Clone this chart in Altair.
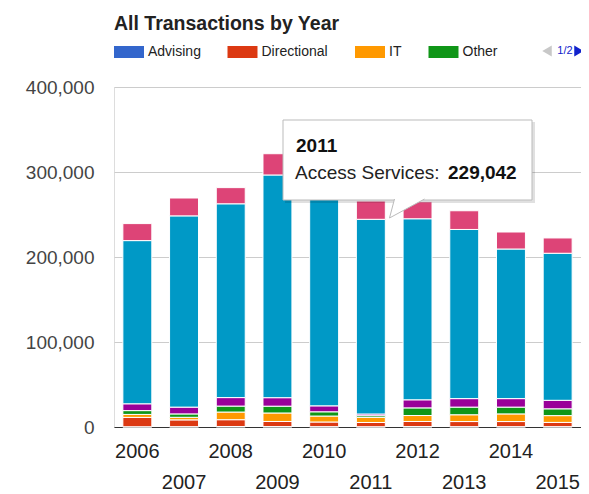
import altair as alt
import pandas as pd

FONT = "Arial, 'Liberation Sans', sans-serif"

years = ["2006", "2007", "2008", "2009", "2010", "2011", "2012", "2013", "2014", "2015"]
series_names = ["Advising", "Directional", "IT", "Other", "Reference", "Access Services", "Circulation"]
series_colors = ["#3366cc", "#dc3912", "#ff9900", "#109618", "#990099", "#0099c6", "#dd4477"]

advising = [300, 400, 600, 500, 400, 300, 500, 400, 400, 400]
directional = [11000, 8000, 8000, 6000, 5500, 5000, 6000, 6000, 6000, 5000]
it = [3500, 3000, 9000, 10000, 7000, 6000, 7000, 8000, 9000, 8000]
other = [4500, 4000, 7000, 8000, 5000, 2000, 9000, 9000, 8000, 8000]
reference = [8000, 8000, 10000, 10000, 7000, 2000, 9500, 10000, 10000, 10000]
access_services = [192000, 225000, 228000, 262000, 255000, 229042, 213000, 199000, 176000, 173000]
circulation = [20000, 21000, 19000, 25000, 20000, 21500, 20000, 22000, 20000, 18000]

legend_shown = series_names[:4]
legend_page = "1/2"
tooltip_year = "2011"
tooltip_series = "Access Services"
y_ticks = [0, 100000, 200000, 300000, 400000]

all_series = [advising, directional, it, other, reference, access_services, circulation]
rows = []
for si, (name, vals) in enumerate(zip(series_names, all_series)):
    for yr, v in zip(years, vals):
        rows.append({"year": yr, "series": name, "value": v, "idx": si})
df = pd.DataFrame(rows)

bars = alt.Chart(df).mark_bar(stroke="white", strokeWidth=1).encode(
    x=alt.X(
        "year:N", sort=years, title=None,
        scale=alt.Scale(paddingInner=0.38, paddingOuter=0.19),
        axis=alt.Axis(
            labelAngle=0, ticks=False, grid=False, domain=True, domainColor="#333",
            domainWidth=1, labelPadding=14, labelFontSize=20, labelFont=FONT,
            labelColor="#222", labelOverlap=False, labelLineHeight=31,
            labelExpr="toNumber(datum.value) % 2 == 0 ? datum.label : ['', datum.label]",
        ),
    ),
    y=alt.Y(
        "value:Q", stack="zero", title=None,
        scale=alt.Scale(domain=[0, 400000], nice=False),
        axis=alt.Axis(
            values=y_ticks, format=",.0f", ticks=False, domain=False, labelPadding=20,
            labelFontSize=19, labelFont=FONT, labelColor="#444", gridColor="#cccccc",
        ),
    ),
    color=alt.Color(
        "series:N",
        scale=alt.Scale(domain=series_names, range=series_colors),
        legend=alt.Legend(
            orient="none", legendX=-1, legendY=-42, direction="horizontal", title=None,
            values=legend_shown, symbolType="M-1,-1H4V1H-1Z", symbolSize=144,
            symbolStrokeWidth=0, symbolOpacity=1, labelOffset=21, labelFontSize=14,
            labelFont=FONT, labelColor="#222", columnPadding=25.5, padding=0,
        ),
    ),
    order=alt.Order("idx:Q", sort="ascending"),
)

page_df = pd.DataFrame({"lbl": [legend_page]})
left_tri = alt.Chart(page_df).mark_point(
    shape="triangle-left", filled=True, size=120, color="#c8c8c8", opacity=1
).encode(x=alt.value(433), y=alt.value(-36))
page_txt = alt.Chart(page_df).mark_text(
    fontSize=11, color="#1122cc", font=FONT
).encode(x=alt.value(451), y=alt.value(-36), text="lbl:N")
right_tri = alt.Chart(page_df).mark_point(
    shape="triangle-right", filled=True, size=120, color="#1122cc", opacity=1
).encode(x=alt.value(465), y=alt.value(-36))

tip_val = access_services[years.index(tooltip_year)]
tip_df = pd.DataFrame({"year": [tooltip_year], "label": [tooltip_series + ":"], "value": [tip_val]})

shadow = alt.Chart(tip_df).mark_rect(fill="#000000", opacity=0.12).encode(
    x=alt.value(171), x2=alt.value(421), y=alt.value(35), y2=alt.value(116)
)
box = alt.Chart(tip_df).mark_rect(fill="white", stroke="#bbbbbb", strokeWidth=1).encode(
    x=alt.value(169), x2=alt.value(418), y=alt.value(33), y2=alt.value(113)
)
arrow = alt.Chart(tip_df).mark_point(
    shape="M-0.714,-0.57L-1,0.514L1,-0.57", filled=True, fill="white",
    stroke="#bbbbbb", strokeWidth=1, size=1225, opacity=1, fillOpacity=1, strokeOpacity=1,
).encode(x=alt.value(293), y=alt.value(122))
tip_year = alt.Chart(tip_df).mark_text(
    align="left", baseline="alphabetic", fontSize=19, fontWeight="bold", font=FONT, color="#111"
).encode(x=alt.value(182), y=alt.value(65), text="year:N")
tip_label = alt.Chart(tip_df).mark_text(
    align="left", baseline="alphabetic", fontSize=19, font=FONT, color="#222"
).encode(x=alt.value(181), y=alt.value(92), text="label:N")
tip_value = alt.Chart(tip_df).mark_text(
    align="left", baseline="alphabetic", fontSize=19, fontWeight="bold", font=FONT, color="#111"
).encode(x=alt.value(334), y=alt.value(92), text=alt.Text("value:Q", format=","))

chart = alt.layer(
    bars, left_tri, page_txt, right_tri, shadow, box, arrow, tip_year, tip_label, tip_value
).properties(
    width=467, height=340,
    autosize=alt.AutoSizeParams(type="none"),
    padding={"left": 106, "top": 79, "right": 0, "bottom": 66},
    title=alt.TitleParams(
        "All Transactions by Year", anchor="start", frame="group", fontSize=19.5,
        fontWeight="bold", font=FONT, color="#222", baseline="alphabetic", offset=17, dy=21,
    ),
).configure_view(stroke=None).configure(background="white")

chart.save("out.html", embed_options={"renderer": "svg", "actions": False})
